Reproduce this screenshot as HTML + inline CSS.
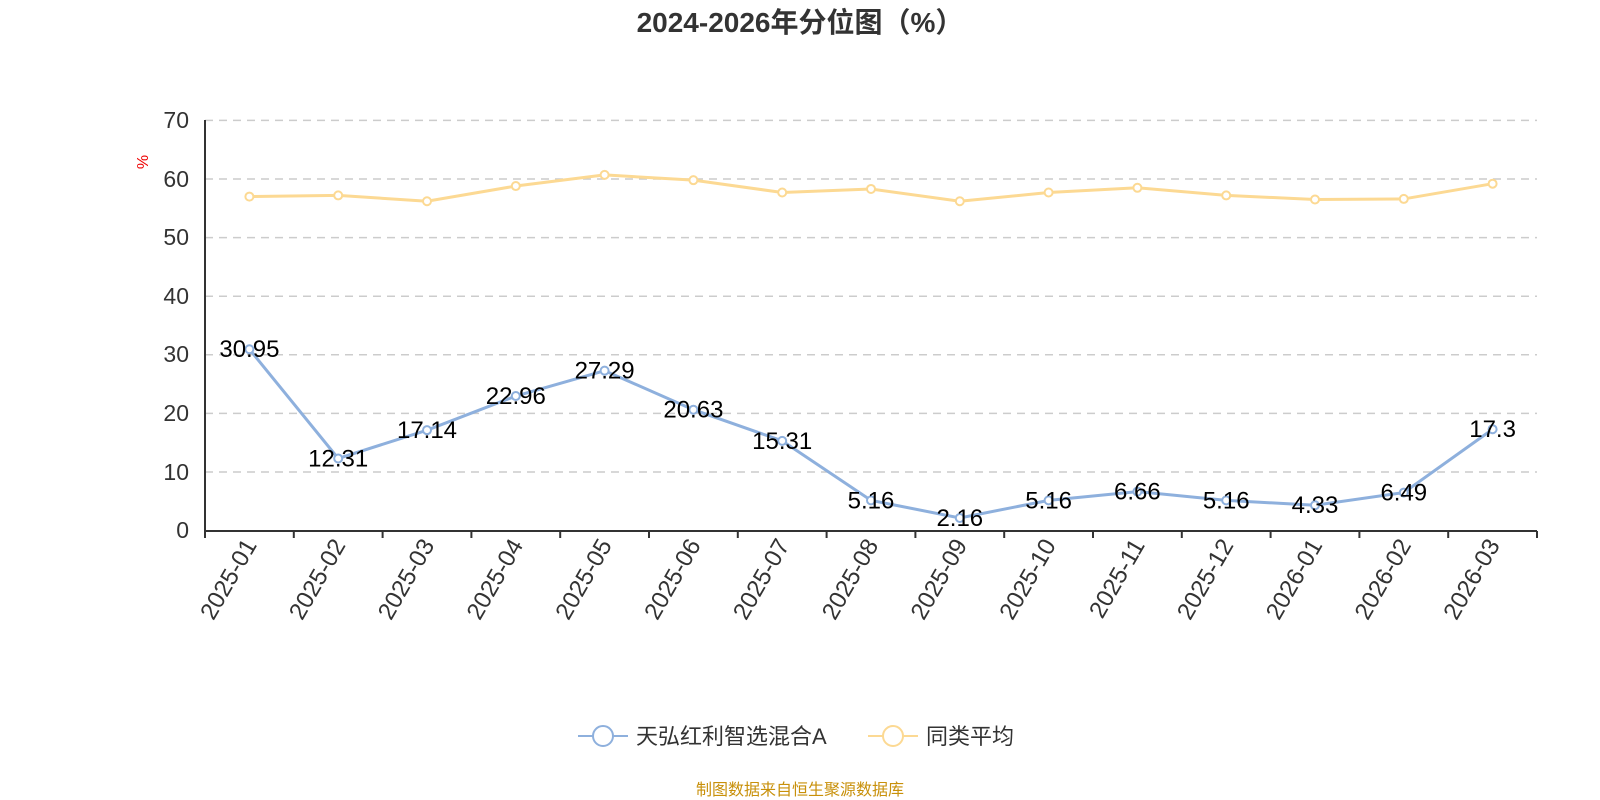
<!DOCTYPE html>
<html><head><meta charset="utf-8"><style>body{margin:0;background:#fff}svg{display:block}</style></head><body>
<svg width="1600" height="800" xmlns="http://www.w3.org/2000/svg" font-family="'Liberation Sans','Noto Sans CJK SC',sans-serif">
<text x="800" y="32" text-anchor="middle" font-size="28" font-weight="bold" fill="#333">2024-2026年分位图（%）</text>
<text transform="translate(148,162) rotate(-90)" text-anchor="middle" font-size="16" fill="#e00">%</text>
<g stroke="#ccc" stroke-width="1.5" stroke-dasharray="8,6">
<line x1="205" x2="1537" y1="120.4" y2="120.4"/><line x1="205" x2="1537" y1="179" y2="179"/><line x1="205" x2="1537" y1="237.6" y2="237.6"/><line x1="205" x2="1537" y1="296.2" y2="296.2"/><line x1="205" x2="1537" y1="354.8" y2="354.8"/><line x1="205" x2="1537" y1="413.4" y2="413.4"/><line x1="205" x2="1537" y1="472" y2="472"/>
</g>
<g stroke="#333" stroke-width="2"><line x1="205" y1="120" x2="205" y2="531"/><line x1="205" y1="531" x2="1537" y2="531"/></g>
<g font-size="23" fill="#333" text-anchor="end">
<text x="189" y="128">70</text><text x="189" y="187">60</text><text x="189" y="245">50</text><text x="189" y="304">40</text><text x="189" y="362">30</text><text x="189" y="421">20</text><text x="189" y="480">10</text><text x="189" y="538">0</text>
</g>
<g id="ticks" stroke="#333" stroke-width="2"></g>
<g id="xl" font-size="24" fill="#333"></g>
<polyline id="py" fill="none" stroke="#fcd993" stroke-width="3"/>
<polyline id="pb" fill="none" stroke="#8eb0dd" stroke-width="3"/>
<g id="dots"></g>
<g id="lbl" font-size="24" fill="#000" text-anchor="middle"></g>
<line x1="578" y1="736" x2="628" y2="736" stroke="#8eb0dd" stroke-width="2"/><circle cx="603" cy="736" r="10" fill="#fff" stroke="#8eb0dd" stroke-width="2"/>
<text x="636" y="744" font-size="22" fill="#333">天弘红利智选混合A</text>
<line x1="868" y1="736" x2="918" y2="736" stroke="#fcd993" stroke-width="2"/><circle cx="893" cy="736" r="10" fill="#fff" stroke="#fcd993" stroke-width="2"/>
<text x="926" y="744" font-size="22" fill="#333">同类平均</text>
<text x="800" y="795" text-anchor="middle" font-size="16" fill="#c8900a">制图数据来自恒生聚源数据库</text>
</svg>
<script>
const b=[30.95,12.31,17.14,22.96,27.29,20.63,15.31,5.16,2.16,5.16,6.66,5.16,4.33,6.49,17.3];
const y=[57.0,57.2,56.2,58.8,60.7,59.8,57.7,58.3,56.2,57.7,58.5,57.2,56.5,56.6,59.2];
const labs=["2025-01","2025-02","2025-03","2025-04","2025-05","2025-06","2025-07","2025-08","2025-09","2025-10","2025-11","2025-12","2026-01","2026-02","2026-03"];
const X=i=>205+44.4+i*88.8, Y=v=>530.6-v*5.86;
const ns="http://www.w3.org/2000/svg";
function el(t,a,p,txt){const e=document.createElementNS(ns,t);for(const k in a)e.setAttribute(k,a[k]);if(txt!=null)e.textContent=txt;document.getElementById(p).appendChild(e);}
for(let i=0;i<=15;i++)el('line',{x1:205+i*88.8,x2:205+i*88.8,y1:531,y2:538},'ticks');
labs.forEach((l,i)=>el('text',{transform:`translate(${X(i)+8},${545}) rotate(-60)`,'text-anchor':'end'},'xl',l));
document.getElementById('py').setAttribute('points',y.map((v,i)=>X(i)+','+Y(v)).join(' '));
document.getElementById('pb').setAttribute('points',b.map((v,i)=>X(i)+','+Y(v)).join(' '));
y.forEach((v,i)=>el('circle',{cx:X(i),cy:Y(v),r:4,fill:'#fff',stroke:'#fcd993','stroke-width':2},'dots'));
b.forEach((v,i)=>el('circle',{cx:X(i),cy:Y(v),r:4,fill:'#fff',stroke:'#8eb0dd','stroke-width':2},'dots'));
b.forEach((v,i)=>el('text',{x:X(i),y:Y(v)+8},'lbl',String(v)));
</script>
</body></html>
